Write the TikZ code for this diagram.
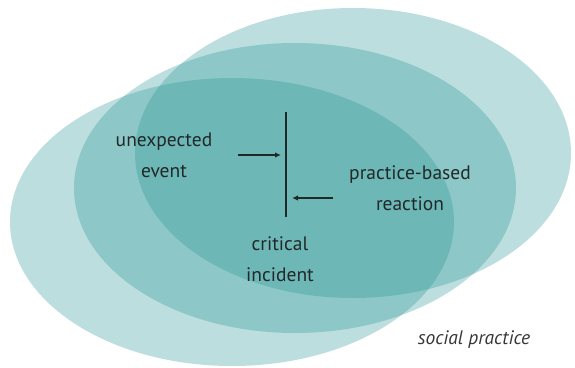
\documentclass[tikz,border=0pt]{standalone}
\usepackage{fontspec}
\setmainfont{PT Sans}
\usetikzlibrary{arrows.meta}
\definecolor{ringteal}{RGB}{38,148,148}
\definecolor{inkgray}{RGB}{34,40,40}
\definecolor{notegray}{RGB}{55,55,55}
\begin{document}
\begin{tikzpicture}[x=1pt,y=-1pt,
  ring/.style={fill=ringteal, fill opacity=0.31},
  caption/.style={font=\fontsize{19.5}{31}\selectfont, text=inkgray, align=center, inner sep=0pt},
  pointer/.style={draw=inkgray, line width=1.5pt, -{Latex[length=6pt,width=5.5pt]}},
  barline/.style={draw=inkgray, line width=1.6pt},
]
\useasboundingbox (0,0) rectangle (575,367);

% three overlapping translucent ellipses
\fill[ring] (232,222) ellipse [x radius=222, y radius=144];
\fill[ring] (295,188) ellipse [x radius=221, y radius=145];
\fill[ring] (353,153) ellipse [x radius=218, y radius=145];

% labels (base anchor sits on the last line)
\node[caption, anchor=base] (ue) at (164,177) {unexpected\\event};
\node[caption, anchor=base] (pr) at (410,210) {practice-based\\reaction};
\node[caption, anchor=base] (ci) at (280,281) {critical\\incident};
\node[font=\fontsize{19.5}{24}\selectfont\itshape, text=notegray, inner sep=0pt, anchor=base] (sp) at (474,344) {social practice};

% the incident bar and the two pointers
\coordinate (bartop) at (286,112);
\coordinate (barbot) at (286,217);
\draw[barline] (bartop) -- (barbot);
\coordinate (inA) at (238,155);
\coordinate (inB) at (281,155);
\coordinate (reA) at (333,198);
\coordinate (reB) at (292,198);
\draw[pointer] (inA) -- (inB);
\draw[pointer] (reA) -- (reB);
\end{tikzpicture}
\end{document}
